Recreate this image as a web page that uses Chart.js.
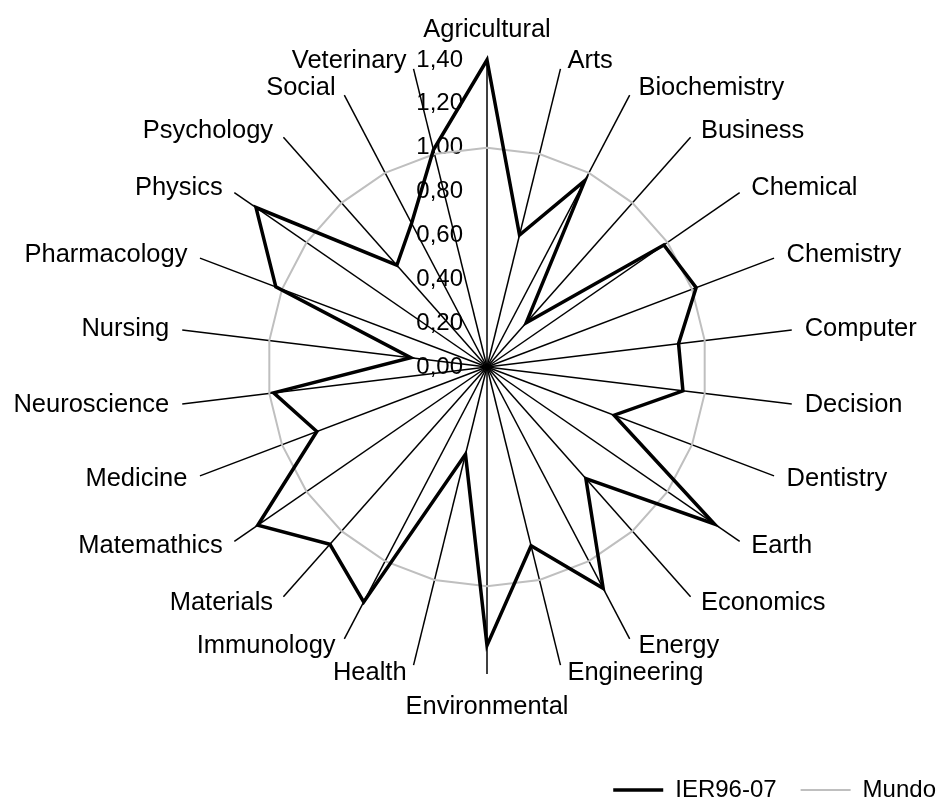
<!DOCTYPE html>
<html>
<head>
<meta charset="utf-8">
<script src="https://cdn.jsdelivr.net/npm/chart.js@4.4.1/dist/chart.umd.min.js"></script>
<style>
  html, body { margin: 0; padding: 0; background: #ffffff; }
  #wrap { width: 939px; height: 801px; }
</style>
</head>
<body>
<div id="wrap"><canvas id="radar" width="939" height="801"></canvas></div>
<script>
// data ---------------------------------------------------------------------
const categories = [
  'Agricultural', 'Arts', 'Biochemistry', 'Business', 'Chemical', 'Chemistry',
  'Computer', 'Decision', 'Dentistry', 'Earth', 'Economics', 'Energy',
  'Engineering', 'Environmental', 'Health', 'Immunology', 'Materials',
  'Matemathics', 'Medicine', 'Neuroscience', 'Nursing', 'Pharmacology',
  'Physics', 'Psychology', 'Social', 'Veterinary'
]

const ier = [
  1.40, 0.62, 0.96, 0.27, 0.98, 1.02, 0.88, 0.90, 0.62, 1.26, 0.68, 1.14, 0.84,
  1.27, 0.41, 1.21, 1.08, 1.27, 0.83, 0.98, 0.35, 1.03, 1.28, 0.62, 0.74, 1.02
]

const mundo = [
  1, 1, 1, 1, 1, 1, 1, 1, 1, 1, 1, 1, 1,
  1, 1, 1, 1, 1, 1, 1, 1, 1, 1, 1, 1, 1
]

const seriesNames = ['IER96-07', 'Mundo']

// axis: 0,00 .. 1,40 step 0,20
const axisMin = 0
const axisMax = 1.4
const axisStep = 0.2

const family = "'Liberation Sans', Arial, sans-serif"
Chart.defaults.font.family = family
Chart.defaults.color = '#000'

const fmt = v => v.toFixed(2).replace('.', ',')

// tick labels and category labels drawn in the Excel way -------------------
const radarText = {
  id: 'radarText',
  beforeDraw(chart) {
    const r = chart.scales.r
    const ctx = chart.ctx
    ctx.save()
    ctx.fillStyle = '#000'

    // value labels to the left of the vertical spoke
    ctx.font = `24px ${family}`
    ctx.textAlign = 'right'
    ctx.textBaseline = 'middle'
    r.ticks.forEach(t => {
      const d = r.getDistanceFromCenterForValue(t.value)
      ctx.fillText(fmt(t.value), r.xCenter - 24, r.yCenter - d)
    })

    // category names at the spoke ends
    ctx.font = `25.5px ${family}`
    categories.forEach((name, i) => {
      const a = r.getIndexAngle(i)
      const s = Math.sin(a)
      const c = Math.cos(a)
      const end = r.getPointPosition(i, r.drawingArea)
      let x = end.x
      let y = end.y - 8 * c
      if (Math.abs(s) < 0.01) {
        ctx.textAlign = 'center'
        y = c > 0 ? end.y - 30 : end.y + 33
      } else if (s > 0) {
        ctx.textAlign = 'left'
        x = end.x + 5 + 8 * s
      } else {
        ctx.textAlign = 'right'
        x = end.x - 5 + 8 * s
      }
      ctx.fillText(name, x, y)
    })
    ctx.restore()
  }
}

const ctx = document.querySelector('#radar').getContext('2d')

new Chart(ctx, {
  type: 'radar',
  data: {
    labels: categories,
    datasets: [
      {
        label: seriesNames[0],
        data: ier,
        borderColor: '#000000',
        backgroundColor: '#000000',
        borderWidth: 3.5,
        pointRadius: 0,
        fill: false,
        clip: false,
      },
      {
        label: seriesNames[1],
        data: mundo,
        borderColor: '#bfbfbf',
        backgroundColor: '#bfbfbf',
        borderWidth: 2,
        pointRadius: 0,
        fill: false,
        clip: false,
      },
    ],
  },
  options: {
    responsive: false,
    animation: false,
    elements: { line: { tension: 0 } },
    layout: {
      padding: { left: 36, right: -21, top: 60, bottom: -11 }
    },
    scales: {
      r: {
        min: axisMin,
        max: axisMax,
        ticks: { stepSize: axisStep, display: false },
        grid: { display: false },
        angleLines: { display: true, color: '#000', lineWidth: 1.5 },
        pointLabels: { display: false },
      }
    },
    plugins: {
      tooltip: { enabled: false },
      legend: {
        position: 'bottom',
        align: 'end',
        title: { display: true, text: '', font: { size: 10 }, padding: { top: 68, bottom: 0 } },
        labels: {
          usePointStyle: true,
          pointStyle: 'line',
          pointStyleWidth: 50,
          padding: 24,
          color: '#000',
          font: { size: 24 },
        }
      }
    }
  },
  plugins: [radarText]
})
</script>
</body>
</html>
